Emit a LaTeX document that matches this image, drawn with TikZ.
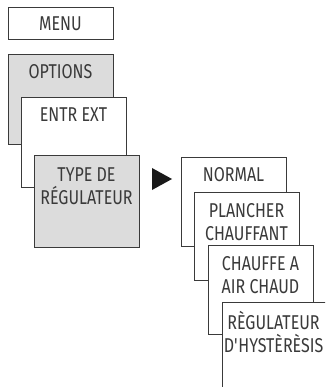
\documentclass[tikz,border=0pt]{standalone}
\usepackage{fontspec}
\setmainfont{Fira Sans}[FakeStretch=0.8]
\definecolor{linec}{HTML}{3A3A3A}
\definecolor{boxgray}{HTML}{DCDCDC}
\tikzset{
  menubox/.style={draw=linec, line width=0.8pt, fill=white, anchor=north west,
    minimum width=105pt, minimum height=90pt, inner sep=0pt, outer sep=0pt},
  graybox/.style={menubox, fill=boxgray},
  lbl/.style={anchor=base, inner sep=0pt, text=linec, font=\fontsize{20}{24}\selectfont}
}
\begin{document}
\begin{tikzpicture}[x=1pt,y=-1pt]
\clip (0,0) rectangle (325,387);
\fill[white] (0,0) rectangle (325,387);
% left column
\node[menubox, minimum height=32pt] (menu) at (8,7) {};
\node[lbl] (tmenu) at (60.5,30.5) {MENU};
\node[graybox] (options) at (8,54) {};
\node[lbl] (toptions) at (60.5,79) {OPTIONS};
\node[menubox] (entr) at (21,97) {};
\node[lbl] (tentr) at (73.5,122) {ENTR EXT};
\node[graybox, minimum height=92pt] (type) at (34,155) {};
\node[lbl] (ttypeA) at (86.5,181) {TYPE DE};
\node[lbl] (ttypeB) at (86.5,204) {RÉGULATEUR};
% arrow
\coordinate (triA) at (152,168);
\coordinate (triB) at (152,190);
\coordinate (triC) at (172,179);
\fill[black!90] (triA) -- (triC) -- (triB) -- cycle;
% right column
\node[menubox, minimum height=89pt] (normal) at (181,157) {};
\node[lbl] (tnormal) at (233.5,181) {NORMAL};
\node[menubox, minimum height=88pt] (plancher) at (194,192) {};
\node[lbl] (tplA) at (246.5,217) {PLANCHER};
\node[lbl] (tplB) at (246.5,240) {CHAUFFANT};
\node[menubox, minimum height=89pt] (chauffe) at (208,245) {};
\node[lbl] (tchA) at (260.5,270) {CHAUFFE A};
\node[lbl] (tchB) at (260.5,293) {AIR CHAUD};
\node[menubox, minimum width=200pt, minimum height=200pt] (hyst) at (222,302) {};
\node[lbl] (thyA) at (273.5,329) {RÈGULATEUR};
\node[lbl] (thyB) at (273.5,352) {D\textquotesingle HYSTÈRÈSIS};
\end{tikzpicture}
\end{document}
